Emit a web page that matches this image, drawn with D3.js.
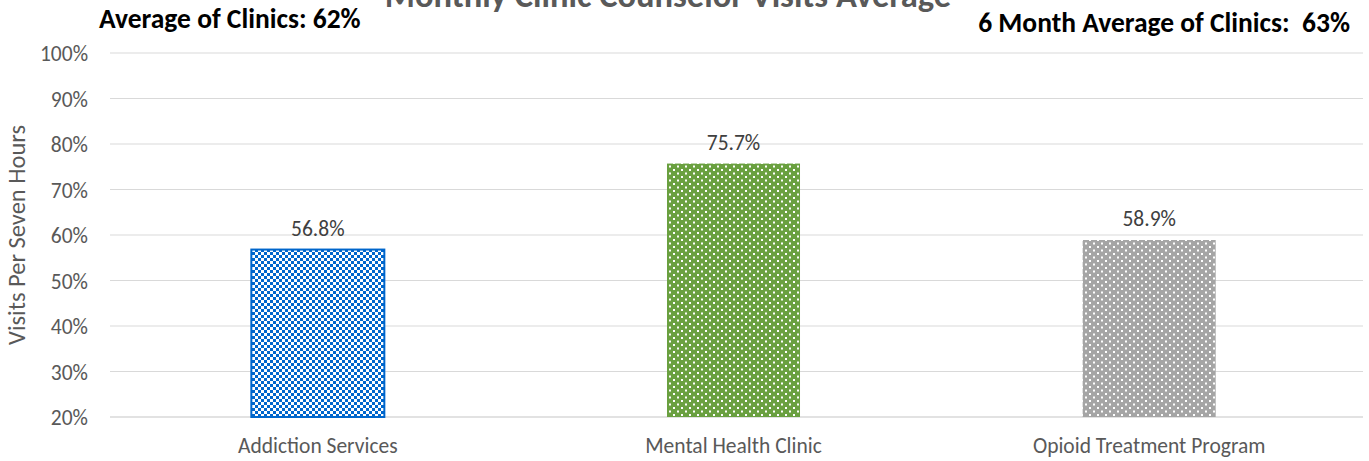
<!DOCTYPE html>
<html>
<head>
<meta charset="utf-8">
<script src="https://cdn.jsdelivr.net/npm/d3@7"></script>
<style>
	body { margin: 0; background: #fff; }
	svg { display: block; }
	svg text { font-family: Carlito, Calibri, "Open Sans", "Liberation Sans", sans-serif; }
</style>
</head>
<body>
<svg id="chart" width="1369" height="461"></svg>
<script>
// Chart data
const categories = ["Addiction Services", "Mental Health Clinic", "Opioid Treatment Program"];
const values = [56.8, 75.7, 58.9];
const yTicks = [20, 30, 40, 50, 60, 70, 80, 90, 100];
const titleText = "Monthly Clinic Counselor Visits Average";
const leftNote = "Average of Clinics: 62%";
const rightNote = "6 Month Average of Clinics:  63%";

const width = 1369, height = 461;
const margin = {top: 53, right: 12, bottom: 44, left: 110};

const svg = d3.select("#chart");
const defs = svg.append("defs");

// Fill patterns for each bar
function checkerPattern(id, color) {
	const p = defs.append("pattern")
		.attr("id", id)
		.attr("patternUnits", "userSpaceOnUse")
		.attr("width", 6).attr("height", 6);
	p.append("rect").attr("width", 6).attr("height", 6).attr("fill", "#fff");
	p.append("rect").attr("width", 3).attr("height", 3).attr("fill", color);
	p.append("rect").attr("x", 3).attr("y", 3).attr("width", 3).attr("height", 3).attr("fill", color);
}

function dotPattern(id, color) {
	const p = defs.append("pattern")
		.attr("id", id)
		.attr("patternUnits", "userSpaceOnUse")
		.attr("width", 8).attr("height", 7);
	p.append("rect").attr("width", 8).attr("height", 7).attr("fill", color);
	p.append("rect").attr("x", 1).attr("y", 1).attr("width", 2).attr("height", 2).attr("fill", "#fff");
	p.append("rect").attr("x", 5).attr("y", 4.5).attr("width", 2).attr("height", 2).attr("fill", "#fff");
}

checkerPattern("pat0", "#0066cc");
dotPattern("pat1", "#6aa040");
dotPattern("pat2", "#a5a5a5");

const fills = ["url(#pat0)", "url(#pat1)", "url(#pat2)"];
const strokes = ["#0066cc", "none", "none"];

const x = d3.scaleBand()
	.domain(categories)
	.range([margin.left, width - margin.right])
	.paddingInner(0.68)
	.paddingOuter(0.34);

const y = d3.scaleLinear()
	.domain([20, 100])
	.range([417, margin.top]);

// Gridlines
svg.append("g")
	.selectAll("line")
	.data(yTicks)
	.join("line")
	.attr("x1", margin.left)
	.attr("x2", width - 6)
	.attr("y1", d => y(d))
	.attr("y2", d => y(d))
	.attr("stroke", "#d9d9d9")
	.attr("stroke-width", d => d === 20 ? 1.5 : 1);

// Y axis labels
const yAxis = svg.append("g")
	.attr("transform", "translate(91,0)")
	.attr("font-family", null)
	.call(d3.axisLeft(y).tickValues(yTicks).tickFormat(d => d + "%").tickSize(0));
yAxis.attr("font-family", null).attr("font-size", null);
yAxis.select(".domain").remove();
yAxis.selectAll("text")
	.attr("fill", "#595959")
	.style("font-size", "21.5px")
	.attr("dy", "0.35em");

// X axis labels
const xAxis = svg.append("g")
	.attr("transform", `translate(0,${y(20)})`)
	.call(d3.axisBottom(x).tickSize(0));
xAxis.attr("font-family", null).attr("font-size", null);
xAxis.select(".domain").remove();
xAxis.selectAll("text")
	.attr("fill", "#595959")
	.style("font-size", "21.5px")
	.attr("y", 36)
	.attr("dy", "0");

// Bars
svg.append("g")
	.selectAll("rect")
	.data(values)
	.join("rect")
	.attr("x", (d, i) => x(categories[i]))
	.attr("y", d => y(d))
	.attr("width", x.bandwidth())
	.attr("height", d => y(20) - y(d))
	.attr("fill", (d, i) => fills[i])
	.attr("stroke", (d, i) => strokes[i])
	.attr("stroke-width", 2);

// Value labels
svg.append("g")
	.selectAll("text")
	.data(values)
	.join("text")
	.attr("x", (d, i) => x(categories[i]) + x.bandwidth() / 2)
	.attr("y", d => y(d) - 14)
	.attr("text-anchor", "middle")
	.attr("fill", "#404040")
	.style("font-size", "21.5px")
	.text(d => d.toFixed(1) + "%");

// Y axis title
svg.append("text")
	.attr("transform", `translate(25,${y(60)}) rotate(-90)`)
	.attr("text-anchor", "middle")
	.attr("fill", "#595959")
	.style("font-size", "24.5px")
	.text("Visits Per Seven Hours");

// Title (cut off at the top, as in the source)
svg.append("text")
	.attr("x", 668)
	.attr("y", 7)
	.attr("text-anchor", "middle")
	.attr("fill", "#595959")
	.style("font-size", "34.5px")
	.style("font-weight", "bold")
	.text(titleText);

// Notes
svg.append("text")
	.attr("x", 99)
	.attr("y", 28)
	.attr("fill", "#000")
	.style("font-size", "27.5px")
	.style("font-weight", "bold")
	.text(leftNote);

svg.append("text")
	.attr("x", 1350)
	.attr("y", 32)
	.attr("text-anchor", "end")
	.attr("fill", "#000")
	.style("font-size", "27.5px")
	.style("font-weight", "bold")
	.style("white-space", "pre")
	.text(rightNote);
</script>
</body>
</html>
